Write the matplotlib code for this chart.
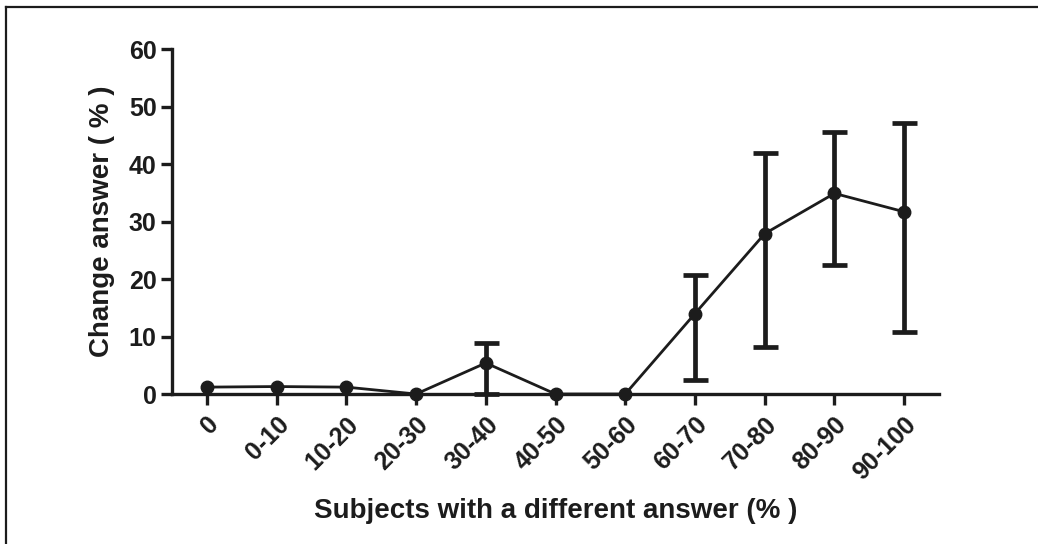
import matplotlib.pyplot as plt
from matplotlib.lines import Line2D

plt.rcParams['font.family'] = ['Liberation Sans', 'DejaVu Sans']
plt.rcParams['font.weight'] = 'bold'

# categories and values
groups = ["0", "0-10", "10-20", "20-30", "30-40", "40-50",
          "50-60", "60-70", "70-80", "80-90", "90-100"]
change = [1.2, 1.3, 1.2, 0.0, 5.4, 0.0, 0.0, 14.0, 27.9, 34.9, 31.7]
err_low = [1.2, 1.3, 1.2, 0.0, 0.0, 0.0, 0.0, 2.5, 8.2, 22.5, 10.8]
err_high = [1.2, 1.3, 1.2, 0.0, 8.8, 0.0, 0.0, 20.7, 41.9, 45.5, 47.2]

ink = "#1c1c1c"

fig = plt.figure(figsize=(10.38, 5.44), dpi=100)
ax = fig.add_axes([0.1657, 0.2757, 0.739, 0.634])

x = list(range(len(groups)))

# only points with a spread get error bars
eb_x = [i for i in x if err_high[i] > err_low[i]]
eb_y = [change[i] for i in eb_x]
lower = [change[i] - err_low[i] for i in eb_x]
upper = [err_high[i] - change[i] for i in eb_x]

ax.errorbar(eb_x, eb_y, yerr=[lower, upper], fmt='none', ecolor=ink,
            elinewidth=3.4, capsize=9, capthick=3.4, clip_on=False, zorder=2)
ax.plot(x, change, color=ink, linewidth=2, marker='o', markersize=9,
        clip_on=False, zorder=3)

ax.set_xlim(-0.5, 10.5)
ax.set_ylim(0, 60)
ax.set_yticks(range(0, 61, 10))
ax.set_xticks(x)
ax.set_xticklabels(groups, rotation=45, ha='right', rotation_mode='anchor')

for side in ['top', 'right']:
    ax.spines[side].set_visible(False)
for side in ['left', 'bottom']:
    ax.spines[side].set_linewidth(2.4)
    ax.spines[side].set_color(ink)

ax.tick_params(axis='both', colors=ink, width=2.4, length=8, labelsize=18)
ax.tick_params(axis='x', pad=5)
ax.tick_params(axis='y', pad=3)

ax.set_xlabel("Subjects with a different answer (% )", fontsize=20,
              fontweight='bold', color=ink, labelpad=10)
ax.set_ylabel("Change answer ( % )", fontsize=20, fontweight='bold',
              color=ink, labelpad=10)

# frame lines of the original figure (top and left)
fig.add_artist(Line2D([6 / 1038, 1], [1 - 7 / 544, 1 - 7 / 544],
                      transform=fig.transFigure, color=ink, linewidth=1.6))
fig.add_artist(Line2D([6 / 1038, 6 / 1038], [0, 1 - 7 / 544],
                      transform=fig.transFigure, color=ink, linewidth=1.6))

plt.savefig("out.png", dpi=100)
